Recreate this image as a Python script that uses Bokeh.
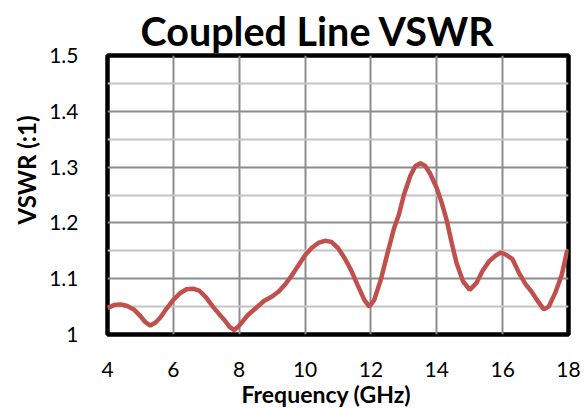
from bokeh.plotting import figure
from bokeh.models import FixedTicker, CustomJSTickFormatter, Range1d, Title
from bokeh.embed import file_html
from bokeh.resources import INLINE

freq = [4.0, 4.2, 4.4, 4.6, 4.8, 5.0, 5.15, 5.3, 5.45, 5.6, 5.8, 6.0, 6.2, 6.4, 6.6, 6.8,
        7.0, 7.2, 7.4, 7.55, 7.7, 7.85, 8.0, 8.25, 8.5, 8.75, 9.0, 9.2, 9.4, 9.6, 9.8,
        10.0, 10.2, 10.4, 10.6, 10.8, 11.0, 11.2, 11.4, 11.6, 11.8, 11.95, 12.1, 12.3,
        12.5, 12.7, 12.85, 13.0, 13.2, 13.35, 13.5, 13.65, 13.8, 14.0, 14.15, 14.3,
        14.45, 14.6, 14.8, 15.0, 15.2, 15.4, 15.6, 15.8, 15.95, 16.1, 16.3, 16.5, 16.7,
        16.9, 17.1, 17.25, 17.4, 17.6, 17.8, 17.95, 18.0]
vswr = [1.047, 1.053, 1.054, 1.051, 1.045, 1.033, 1.022, 1.016, 1.021, 1.030, 1.047,
        1.062, 1.074, 1.081, 1.082, 1.078, 1.066, 1.050, 1.036, 1.026, 1.014, 1.008,
        1.016, 1.034, 1.047, 1.060, 1.068, 1.077, 1.090, 1.106, 1.124, 1.142, 1.155,
        1.164, 1.168, 1.166, 1.155, 1.137, 1.115, 1.088, 1.062, 1.050, 1.062, 1.098,
        1.145, 1.190, 1.215, 1.250, 1.285, 1.302, 1.307, 1.302, 1.288, 1.262, 1.236,
        1.205, 1.165, 1.128, 1.095, 1.080, 1.092, 1.115, 1.132, 1.142, 1.147, 1.143,
        1.135, 1.110, 1.090, 1.075, 1.057, 1.045, 1.050, 1.075, 1.108, 1.148, 1.152]

x_ticks = [4, 6, 8, 10, 12, 14, 16, 18]
y_ticks = [1.0, 1.1, 1.2, 1.3, 1.4, 1.5]
y_minor = [1.05, 1.15, 1.25, 1.35, 1.45]

FONT = "Lato"

p = figure(width=587, height=409, output_backend="svg", toolbar_location=None,
           x_range=Range1d(4, 18), y_range=Range1d(1.0, 1.5),
           min_border_left=107, min_border_right=19, min_border_top=55, min_border_bottom=74,
           border_fill_color="white")

p.title.text = "Coupled Line VSWR"
p.title.text_font = FONT
p.title.text_font_size = "39.5px"
p.title.text_font_style = "bold"
p.title.align = "left"
p.title.offset = 33
p.title.standoff = 4
p.title.text_color = "black"

p.line(freq, vswr, line_color="#C0504D", line_width=4.5)

p.outline_line_color = "black"
p.outline_line_width = 4.5
p.outline_line_alpha = 1.0

p.xaxis.ticker = FixedTicker(ticks=x_ticks)
p.yaxis.ticker = FixedTicker(ticks=y_ticks, minor_ticks=y_minor)
p.yaxis.formatter = CustomJSTickFormatter(code="return tick.toFixed(1).replace(/\\.0$/, '');")

for ax in (p.xaxis[0], p.yaxis[0]):
    ax.axis_line_color = None
    ax.major_tick_line_color = None
    ax.minor_tick_line_color = None
    ax.major_label_text_font = FONT
    ax.major_label_text_font_size = "21px"
    ax.major_label_text_color = "black"

p.xaxis.major_label_standoff = 21
p.yaxis.major_label_standoff = 23

xlabel = Title(text="Frequency (GHz)", align="left", offset=134, vertical_align="top",
               standoff=0, text_font=FONT, text_font_size="23px", text_font_style="bold",
               text_color="black")
p.add_layout(xlabel, "below")

ylabel = Title(text="VSWR (:1)", align="left", offset=110, vertical_align="bottom",
               standoff=12, text_font=FONT, text_font_size="24px", text_font_style="bold",
               text_color="black")
p.add_layout(ylabel, "left")

p.xgrid.ticker = FixedTicker(ticks=x_ticks)
p.xgrid.grid_line_color = "#8c8c8c"
p.xgrid.grid_line_width = 2
p.ygrid.ticker = FixedTicker(ticks=y_ticks, minor_ticks=y_minor)
p.ygrid.grid_line_color = "#8c8c8c"
p.ygrid.grid_line_width = 2
p.ygrid.minor_grid_line_color = "#c4c4c4"
p.ygrid.minor_grid_line_width = 2

open("out.html", "w").write(file_html(p, INLINE))
